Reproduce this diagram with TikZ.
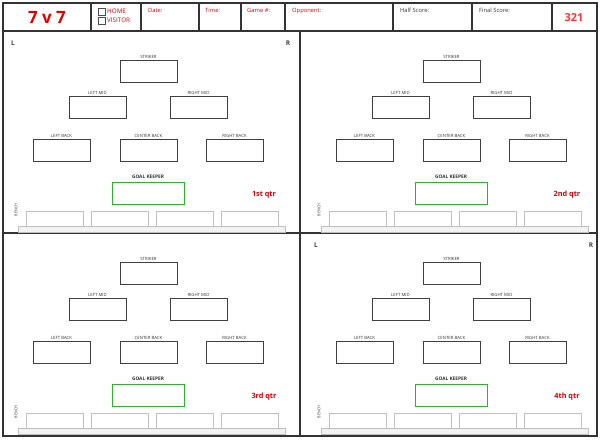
\documentclass[tikz,border=0pt]{standalone}
\usepackage{fontspec}
\setmainfont{Open Sans}
\begin{document}
\begin{tikzpicture}[x=1pt,y=-1pt,
 box/.style={draw=black!75,line width=0.5pt},
 lab/.style={font=\fontsize{4.3}{4.3}\selectfont,text=black!80,inner sep=0pt},
 hdr/.style={font=\fontsize{5.8}{6}\selectfont,text=red!85!black,anchor=north west,inner sep=0pt},
 seat/.style={draw=black!25,line width=0.8pt},
 frame/.style={draw=black!80,line width=1.2pt}]
\useasboundingbox (0,0) rectangle (600,440);
\fill[white] (0,0) rectangle (600,440);
% header
\draw[frame] (3,3) rectangle (597,31);
\foreach \x in {91,141,199,241,285,393,472,552} \draw[frame] (\x,3) -- (\x,31);
\node[font=\bfseries\fontsize{17}{17}\selectfont,text=red!90!black] (t) at (47,17) {7 v 7};
\draw[black!70,line width=0.5pt] (98,8) rectangle (105,15);
\draw[black!70,line width=0.5pt] (98,17) rectangle (105,24);
\node[hdr,anchor=west] (h) at (107,11.5) {\fontsize{6.3}{6.3}\selectfont HOME};
\node[hdr,anchor=west] (v) at (107,20.5) {\fontsize{6.3}{6.3}\selectfont VISITOR};
\node[hdr] (d) at (148,8) {Date:};
\node[hdr] (ti) at (205,8) {Time:};
\node[hdr] (g) at (247,8) {Game \#:};
\node[hdr] (o) at (292,8) {Opponent:};
\node[hdr,text=black!80] (hs) at (400,8) {Half Score:};
\node[hdr,text=black!80] (fs) at (479,8) {Final Score:};
\node[font=\bfseries\fontsize{11}{11}\selectfont,text=red!80] (n) at (574,18) {321};
% panels
\draw[frame] (3,31) rectangle (597,436);
\draw[frame] (300,31) -- (300,436);
\draw[frame] (3,233) -- (597,233);
\foreach \dx/\dy/\q in {0/0/1st,303/0/2nd,0/202/3rd,303/202/4th}{
 \begin{scope}[shift={(\dx,\dy)}]
 \draw[box] (120,60) rectangle (177,82);
 \node[lab] at (148.5,57) {STRIKER};
 \draw[box] (69,96) rectangle (126,118);
 \node[lab] at (97.5,93) {LEFT MID};
 \draw[box] (170,96) rectangle (227,118);
 \node[lab] at (198.5,93) {RIGHT MID};
 \draw[box] (33,139) rectangle (90,161);
 \node[lab] at (61.5,136) {LEFT BACK};
 \draw[box] (120,139) rectangle (177,161);
 \node[lab] at (148.5,136) {CENTER BACK};
 \draw[box] (206,139) rectangle (263,161);
 \node[lab] at (234.5,136) {RIGHT BACK};
 \node[lab,font=\bfseries\fontsize{4.8}{4.8}\selectfont] at (148,177) {GOAL KEEPER};
 \draw[draw=green!60!black!80,line width=0.7pt] (112,182) rectangle (184,204);
 \node[font=\bfseries\fontsize{7.3}{7.3}\selectfont,text=red!85!black] at (264,194.5) {\q\ qtr};
 \foreach \sx in {26,91,156,221} \draw[seat] (\sx,226) -- (\sx,211) -- (\sx+57,211) -- (\sx+57,226);
 \draw[seat,fill=black!5] (18,226) rectangle (285,232);
 \node[lab,rotate=90,font=\fontsize{3.8}{3.8}\selectfont] at (16,210) {BENCH};
 \end{scope}}
\foreach \dx/\dy in {0/0,303/202}{
 \node[font=\bfseries\fontsize{6.5}{6.5}\selectfont,text=black!75] at (13+\dx,43+\dy) {L};
 \node[font=\bfseries\fontsize{6.5}{6.5}\selectfont,text=black!75] at (288+\dx,43+\dy) {R};}
\end{tikzpicture}
\end{document}
